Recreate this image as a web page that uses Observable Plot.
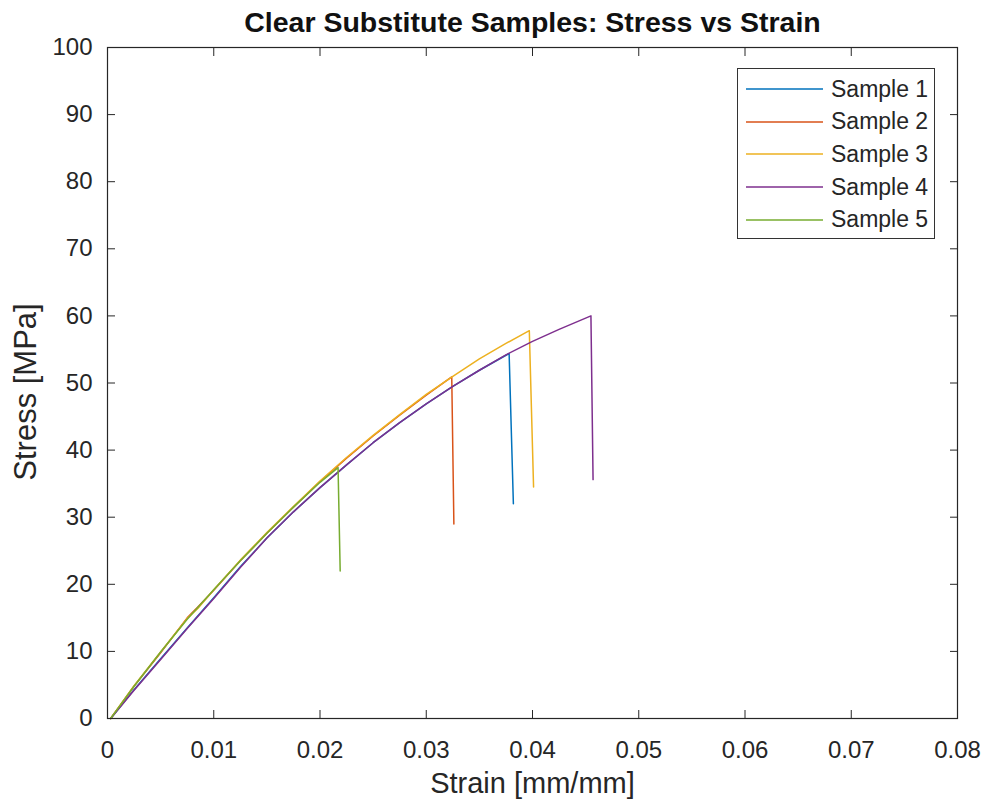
<!DOCTYPE html>
<html>
<head>
<meta charset="utf-8">
<script src="https://cdn.jsdelivr.net/npm/d3@7"></script>
<script src="https://cdn.jsdelivr.net/npm/@observablehq/plot@0.6"></script>
<style>
  html, body { margin: 0; padding: 0; background: #fff; }
  #wrap { position: relative; width: 990px; height: 804px; font-family: "Liberation Sans", Arial, sans-serif; }
  #legend { position: absolute; left: 737px; top: 68px; width: 196px; height: 165px; border: 1px solid #333; background: #fff; padding-top: 4px; box-sizing: content-box; }
  .row { height: 32.6px; display: flex; align-items: center; }
  .row svg { margin-left: 8px; margin-right: 8px; }
  .row span { font-size: 23px; color: #262626; }
</style>
</head>
<body>
<div id="wrap"></div>
<script>
const titleText = "Clear Substitute Samples: Stress vs Strain";
const xLabel = "Strain [mm/mm]";
const yLabel = "Stress [MPa]";
const xTicks = [0, 0.01, 0.02, 0.03, 0.04, 0.05, 0.06, 0.07, 0.08];
const yTicks = [0, 10, 20, 30, 40, 50, 60, 70, 80, 90, 100];
const sampleNames = ["Sample 1", "Sample 2", "Sample 3", "Sample 4", "Sample 5"];
const sampleColors = ["#0072BD", "#D95319", "#EDB120", "#7E2F8E", "#77AC30"];

const strain1 = [0.0003, 0.0025, 0.005, 0.0075, 0.01, 0.0125, 0.015, 0.0175, 0.02, 0.0225, 0.025, 0.0275, 0.03, 0.0325, 0.035, 0.0378, 0.0382];
const stress1 = [0, 4.3, 8.9, 13.5, 18.0, 22.6, 26.9, 30.8, 34.4, 37.8, 41.1, 44.1, 46.9, 49.5, 51.9, 54.4, 32.0];

const strain2 = [0.0003, 0.0025, 0.005, 0.0075, 0.0085, 0.01, 0.0125, 0.015, 0.0175, 0.02, 0.0225, 0.025, 0.0275, 0.03, 0.0324, 0.0326];
const stress2 = [0, 4.8, 9.8, 15.0, 16.6, 19.1, 23.5, 27.6, 31.5, 35.3, 38.8, 42.1, 45.2, 48.2, 50.9, 29.0];

const strain3 = [0.0003, 0.0025, 0.005, 0.0075, 0.0085, 0.01, 0.0125, 0.015, 0.0175, 0.02, 0.0225, 0.025, 0.0275, 0.03, 0.0325, 0.035, 0.0375, 0.0397, 0.0401];
const stress3 = [0, 4.9, 9.9, 14.9, 16.4, 19.2, 23.6, 27.7, 31.6, 35.4, 38.9, 42.2, 45.3, 48.3, 51.0, 53.6, 55.9, 57.8, 34.5];

const strain4 = [0.0003, 0.0025, 0.005, 0.0075, 0.01, 0.0125, 0.015, 0.0175, 0.02, 0.0225, 0.025, 0.0275, 0.03, 0.0325, 0.035, 0.0375, 0.04, 0.0425, 0.0455, 0.0457];
const stress4 = [0, 4.2, 8.8, 13.4, 17.9, 22.5, 26.9, 30.8, 34.4, 37.8, 41.1, 44.1, 46.9, 49.5, 51.9, 54.2, 56.2, 58.0, 60.0, 35.6];

const strain5 = [0.0003, 0.0025, 0.005, 0.0075, 0.01, 0.0125, 0.015, 0.0175, 0.02, 0.0217, 0.0219];
const stress5 = [0, 4.8, 9.9, 14.8, 19.2, 23.5, 27.6, 31.5, 35.2, 37.4, 22.0];

const strains = [strain1, strain2, strain3, strain4, strain5];
const stresses = [stress1, stress2, stress3, stress4, stress5];
const rows = [];
sampleNames.forEach((name, i) => {
  strains[i].forEach((s, j) => rows.push({sample: name, strain: s, stress: stresses[i][j]}));
});

const fontFamily = "Liberation Sans, Arial, sans-serif";
const ink = "#262626";

const chart = Plot.plot({
  width: 990,
  height: 804,
  marginLeft: 107,
  marginRight: 33,
  marginTop: 47,
  marginBottom: 86,
  style: {fontFamily, color: ink, background: "#fff", overflow: "visible"},
  x: {domain: [0, 0.08]},
  y: {domain: [0, 100]},
  color: {domain: sampleNames, range: sampleColors},
  marks: [
    Plot.frame({stroke: ink, strokeWidth: 1.2}),
    Plot.line(rows, {x: "strain", y: "stress", z: "sample", stroke: "sample", strokeWidth: 1.5}),
    Plot.axisX({ticks: xTicks, tickSize: 0, tickPadding: 22, fontSize: 24, tickFormat: d3.format("~g"), label: null}),
    Plot.axisX({ticks: xTicks, tickSize: -8, tickFormat: () => "", label: null, stroke: ink}),
    Plot.axisX({anchor: "top", ticks: xTicks, tickSize: -8, tickFormat: () => "", label: null, stroke: ink}),
    Plot.axisY({ticks: yTicks, tickSize: 0, tickPadding: 15, fontSize: 24, label: null}),
    Plot.axisY({ticks: yTicks, tickSize: -8, tickFormat: () => "", label: null, stroke: ink}),
    Plot.axisY({anchor: "right", ticks: yTicks, tickSize: -8, tickFormat: () => "", label: null, stroke: ink}),
    Plot.text([titleText], {frameAnchor: "top", dy: -25, textAnchor: "middle", lineAnchor: "middle", fontSize: 28.5, fontWeight: "bold", fill: "#111"}),
    Plot.text([xLabel], {frameAnchor: "bottom", dy: 65, textAnchor: "middle", lineAnchor: "middle", fontSize: 29, fill: ink}),
    Plot.text([yLabel], {frameAnchor: "left", dx: -81, dy: 9, rotate: -90, textAnchor: "middle", lineAnchor: "middle", fontSize: 31, fill: ink})
  ]
});

const wrap = document.getElementById("wrap");
wrap.appendChild(chart);

const legend = document.createElement("div");
legend.id = "legend";
sampleNames.forEach((name, i) => {
  const row = document.createElement("div");
  row.className = "row";
  row.innerHTML = `<svg width="77" height="4"><line x1="0" x2="77" y1="2" y2="2" stroke="${sampleColors[i]}" stroke-width="1.5"/></svg><span>${name}</span>`;
  legend.appendChild(row);
});
wrap.appendChild(legend);
</script>
</body>
</html>
